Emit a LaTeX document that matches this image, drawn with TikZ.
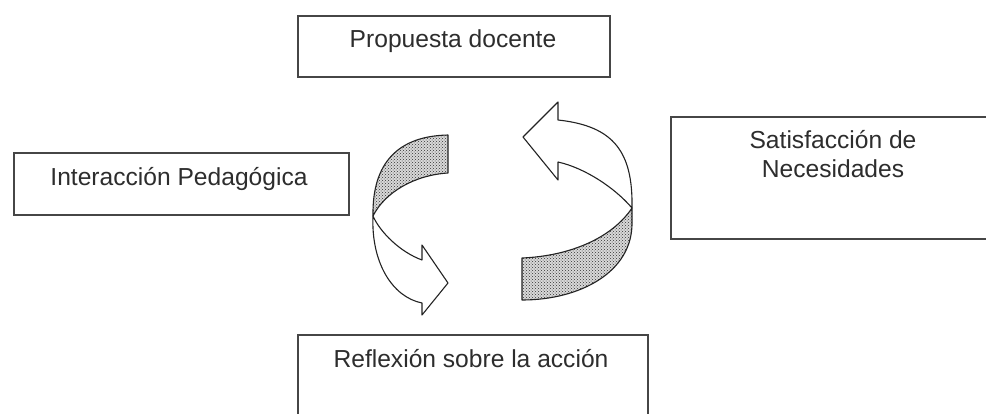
\documentclass[tikz,border=0pt]{standalone}
\usepackage{fontspec}
\setmainfont{Liberation Sans}
\usetikzlibrary{patterns}
\definecolor{boxline}{RGB}{70,70,70}
\definecolor{txtcol}{RGB}{45,45,45}
\definecolor{arrline}{RGB}{35,35,35}
\tikzset{
  box/.style={draw=boxline, line width=1.5pt, fill=white, rectangle, inner sep=0pt, anchor=north west},
  lbl/.style={text=txtcol, inner sep=0pt, anchor=base, align=center, font=\fontsize{24.6}{29}\selectfont},
  front/.style={draw=arrline, line width=1.1pt, fill=white, line join=round},
  back/.style={draw=arrline, line width=1.1pt, line join=round, preaction={fill=gray!30}, pattern=crosshatch dots, pattern color=black!80}
}
\begin{document}
\begin{tikzpicture}[x=1pt,y=-1pt]
\useasboundingbox (0,0) rectangle (986,413);
\clip (0,0) rectangle (986,413);
\fill[white] (0,0) rectangle (986,413);
% boxes
\node[box, minimum width=312pt, minimum height=61pt] (pd) at (297,15) {};
\node[lbl] (pdt) at (453,47) {Propuesta docente};
\node[box, minimum width=335pt, minimum height=62pt] (ip) at (13,152) {};
\node[lbl] (ipt) at (179,185) {Interacción Pedagógica};
\node[box, minimum width=330pt, minimum height=122pt] (sn) at (670,116) {};
\node[lbl] (snt) at (833,148) {Satisfacción de};
\node[lbl] (snt2) at (833,177) {Necesidades};
\node[box, minimum width=350pt, minimum height=100pt] (rsa) at (297,334) {};
\node[lbl] (rsat) at (471,367) {Reflexión sobre la acción};
% left curved arrow
\coordinate (LT) at (373,216);
\draw[back] (448,135) .. controls (398,136) and (372,163) .. (LT)
  .. controls (385,192) and (415,175) .. (448,173) -- cycle;
\draw[front] (LT) .. controls (371,262) and (392,297) .. (422,303)
  -- (422,315) -- (448,283) -- (422,245) -- (422,260)
  .. controls (400,252) and (380,232) .. (LT) -- cycle;
% right curved arrow
\coordinate (RT) at (632,208);
\draw[front] (558,162) -- (558,180) -- (523,137) -- (558,102) -- (558,120)
  .. controls (614,126) and (633,152) .. (RT)
  .. controls (615,188) and (585,168) .. (558,162) -- cycle;
\draw[back] (RT) -- (632,222) .. controls (633,272) and (580,300) .. (522,300)
  -- (522,258) .. controls (570,256) and (612,238) .. (RT) -- cycle;
\end{tikzpicture}
\end{document}
